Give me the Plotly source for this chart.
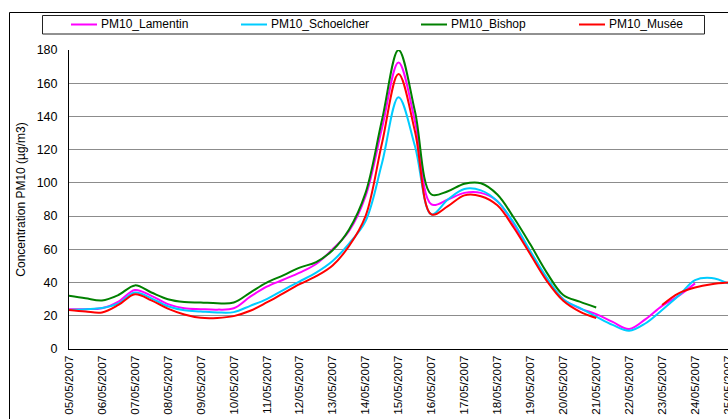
import plotly.graph_objects as go
import pandas as pd

# half-day sampling from 05/05/2007 00:00 to 25/05/2007 00:00
times = pd.date_range("2007-05-05", "2007-05-25", freq="12h")

pm10_lamentin = [24, 24, 24.5, 28.5, 35.5, 32, 27, 24.5, 24, 23.7,
                 24.5, 31.5, 37.5, 41.7, 46, 51.2, 60, 71, 92, 133,
                 172.5, 137, 87, 90, 94, 94, 89, 75, 58, 42,
                 30, 24.5, 21, 16.3, 12, 18, 26, 32, 39.5, None, None]

pm10_schoelcher = [23.5, 24, 24.7, 27.5, 34, 30.5, 25.7, 23.3, 22.6, 22,
                   22.2, 26, 30, 35.5, 40.7, 46, 53, 63.5, 77, 112,
                   151.5, 122, 81, 90, 96.3, 95.5, 89, 76, 59, 43,
                   30, 24.7, 19.5, 14.5, 11, 15.5, 23.5, 32, 41.5, 42.8, 39.5]

pm10_bishop = [32, 30.5, 29.2, 32.5, 38.3, 34, 30, 28.3, 28, 27.5,
               28, 34, 40, 44.3, 49, 52.3, 59.5, 72, 94, 138,
               180, 143, 93, 95, 99.5, 99.8, 93, 79, 63, 46,
               32.5, 28.5, 25, None, None, None, None, None, None, None, None]

pm10_musee = [23.5, 22.6, 22, 26.5, 33, 29.3, 24.3, 20.8, 18.8, 18.7,
              19.8, 23, 28, 33.5, 39, 43.8, 50.3, 62, 80, 124,
              165.5, 131, 81, 86, 92.5, 92, 86.5, 73, 57, 41,
              29, 22.5, 18.7, None, None, None, 26.5, 33.5, 37, 39, 40]

series_names = ["PM10_Lamentin", "PM10_Schoelcher", "PM10_Bishop", "PM10_Musée"]
series_values = [pm10_lamentin, pm10_schoelcher, pm10_bishop, pm10_musee]
series_colors = ["#FF00FF", "#00CCFF", "#008000", "#FF0000"]

FONT = "Liberation Sans, Arial, sans-serif"

W, H = 728, 419
ML, MR, MT, MB = 69, 0, 50, 70
pw = W - ML - MR
ph = H - MT - MB


def px_x(p):
    return (p - ML) / pw


def px_y(p):
    return (H - MB - p) / ph


fig = go.Figure()
for name, vals, col in zip(series_names, series_values, series_colors):
    fig.add_trace(go.Scatter(
        x=times, y=vals, name=name, mode="lines",
        line=dict(color=col, width=2, shape="spline", smoothing=1.0),
        connectgaps=False, showlegend=False,
    ))

# legend box (drawn to match the reference's spread-out legend)
legend_line_x = [71, 241, 421, 579]
legend_y = 24.5
shapes = [
    dict(type="rect", xref="paper", yref="paper",
         x0=px_x(9.5), x1=px_x(760), y0=px_y(460), y1=px_y(12.5),
         line=dict(color="black", width=1), fillcolor="rgba(0,0,0,0)",
         layer="below"),
    dict(type="rect", xref="paper", yref="paper",
         x0=px_x(42.5), x1=px_x(704.5), y0=px_y(34), y1=px_y(15.5),
         line=dict(color="#222222", width=1), fillcolor="white",
         layer="above"),
]
annotations = []
for lx, name, col in zip(legend_line_x, series_names, series_colors):
    shapes.append(dict(type="line", xref="paper", yref="paper",
                       x0=px_x(lx), x1=px_x(lx + 26),
                       y0=px_y(legend_y), y1=px_y(legend_y),
                       line=dict(color=col, width=2)))
    annotations.append(dict(text=name, xref="paper", yref="paper",
                            x=px_x(lx + 28), y=px_y(legend_y),
                            xanchor="left", yanchor="middle",
                            showarrow=False,
                            font=dict(family=FONT, size=12, color="black")))

fig.update_layout(
    width=W, height=H,
    margin=dict(l=ML, r=MR, t=MT, b=MB, autoexpand=False),
    paper_bgcolor="white", plot_bgcolor="white",
    font=dict(family=FONT, size=12, color="black"),
    showlegend=False,
    xaxis=dict(
        type="date",
        range=["2007-05-05", "2007-05-25"],
        tick0="2007-05-05", dtick=86400000,
        tickformat="%d/%m/%Y", tickangle=-90,
        tickfont=dict(family=FONT, size=11.8),
        showgrid=False, zeroline=False,
        showline=True, linecolor="black", linewidth=1,
        ticks="", ticklabelstandoff=1,
        ticklabeloverflow="allow",
        automargin=False,
    ),
    yaxis=dict(
        range=[0, 180], dtick=20, tick0=0,
        showgrid=True, gridcolor="#8c8c8c", gridwidth=1,
        zeroline=False,
        showline=True, linecolor="black", linewidth=1,
        ticks="", ticklabelstandoff=8,
        tickfont=dict(family=FONT, size=12.5),
        title=dict(text="Concentration PM10 (µg/m3)",
                   font=dict(family=FONT, size=12), standoff=8),
        automargin=False,
    ),
    shapes=shapes,
    annotations=annotations,
)

fig.write_html("out.html")
